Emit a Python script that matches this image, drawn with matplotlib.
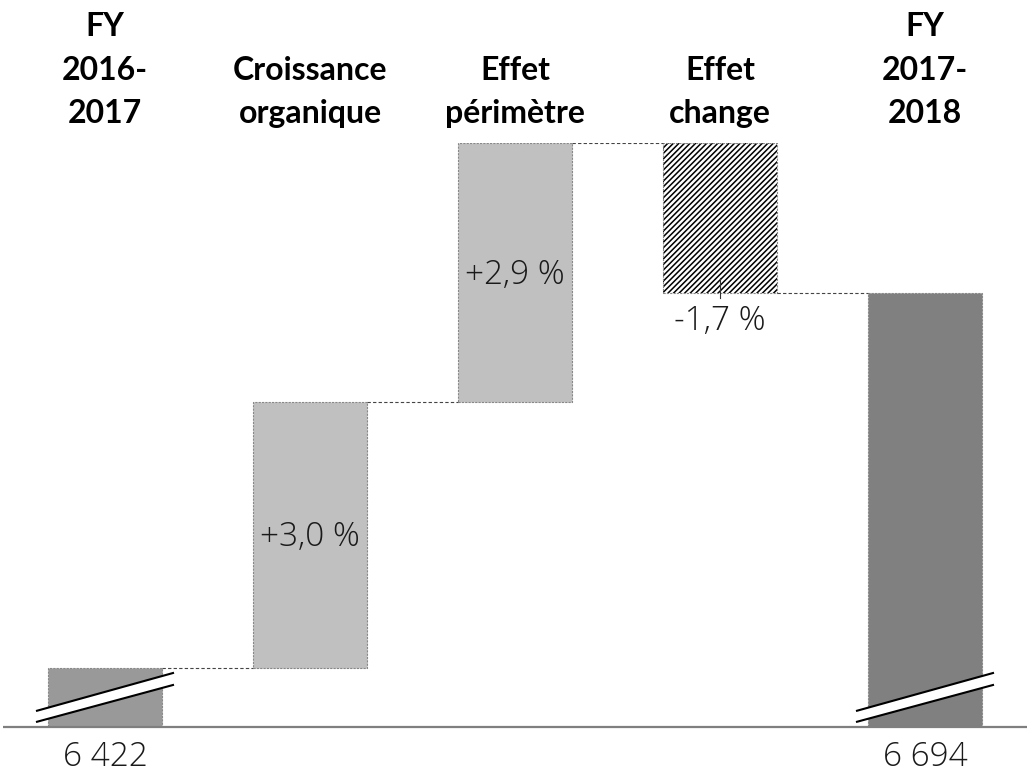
import matplotlib
matplotlib.use('Agg')
import matplotlib.pyplot as plt
import matplotlib.transforms as mtransforms
from matplotlib.patches import Polygon

# data (values in M EUR, deltas)
categories = ['FY\n2016-\n2017', 'Croissance\norganique', 'Effet\npérimètre', 'Effet\nchange', 'FY\n2017-\n2018']
start_value = 6422
end_value = 6694
deltas = [193, 188, -109]
delta_labels = ['+3,0 %', '+2,9 %', '-1,7 %']
total_labels = ['6 422', '6 694']

plt.rcParams['font.family'] = ['Lato', 'DejaVu Sans']
plt.rcParams['hatch.linewidth'] = 1.1

light_font = dict(family=['Open Sans', 'DejaVu Sans'], fontweight=300, color='#1a1a1a')

fig = plt.figure(figsize=(10.27, 7.73), dpi=100)
ax = fig.add_axes([0, 46 / 773, 1, 584 / 773])
y_bottom = 6379
ax.set_xlim(-105 / 205, 4 + 102 / 205)
ax.set_ylim(y_bottom, start_value + sum(d for d in deltas if d > 0))
ax.axis('off')

w = 114 / 205
x = list(range(len(categories)))

levels = [start_value]
for d in deltas:
    levels.append(levels[-1] + d)

edge = dict(edgecolor='#888888', linestyle=(0, (2, 1)), linewidth=0.8)

# total bars
ax.bar(x[0], start_value - y_bottom, bottom=y_bottom, width=w, color='#999999', **edge)
ax.bar(x[4], end_value - y_bottom, bottom=y_bottom, width=w, color='#808080', **edge)

# delta bars
for i, d in enumerate(deltas):
    lo = min(levels[i], levels[i + 1])
    if d > 0:
        ax.bar(x[i + 1], abs(d), bottom=lo, width=w, color='#c0c0c0', **edge)
    else:
        ax.bar(x[i + 1], abs(d), bottom=lo, width=w, color='white', hatch='//////',
               edgecolor='black', linewidth=0)
        ax.bar(x[i + 1], abs(d), bottom=lo, width=w, fill=False, **edge)

# connectors
for i in range(4):
    ax.plot([x[i] + w / 2, x[i + 1] - w / 2], [levels[i], levels[i]],
            color='#444444', linestyle=(0, (3, 2)), linewidth=0.8)

# baseline
ax.plot([3 / 205 - 105 / 205, 4 + 102 / 205], [y_bottom, y_bottom], color='#7f7f7f',
        linewidth=1.6, clip_on=False, solid_capstyle='butt')

# break marks
for xi in (x[0], x[4]):
    dx = 68 / 205
    pts = [(xi - dx, 6390.8), (xi + dx, 6418.2), (xi + dx, 6409.5), (xi - dx, 6382.8)]
    ax.add_patch(Polygon(pts, closed=True, facecolor='white', edgecolor='none', zorder=3))
    ax.plot([xi - dx, xi + dx], [6390.8, 6418.2], color='black', lw=1.5, zorder=4)
    ax.plot([xi - dx, xi + dx], [6382.8, 6409.5], color='black', lw=1.5, zorder=4)

# delta labels
for i, d in enumerate(deltas):
    if d > 0:
        ax.text(x[i + 1], (levels[i] + levels[i + 1]) / 2 - 2, delta_labels[i], ha='center',
                va='center', fontsize=24, **light_font)
    else:
        ax.plot([x[i + 1], x[i + 1]], [levels[i + 1] - 3.8, levels[i + 1] + 10.8],
                color='#333333', lw=0.8)
        ax.text(x[i + 1], levels[i + 1] - 8, delta_labels[i], ha='center', va='top',
                fontsize=24, **light_font)

trans = mtransforms.blended_transform_factory(ax.transData, fig.transFigure)

# header labels
for xi, cat in zip(x, categories):
    ax.text(xi, 1 - 128 / 773, cat, transform=trans, ha='center', va='bottom',
            fontsize=23, fontweight='bold', linespacing=1.6)

# bottom values
ax.text(x[0], 1 - 757 / 773, total_labels[0], transform=trans, ha='center', va='center',
        fontsize=24, **light_font)
ax.text(x[4], 1 - 757 / 773, total_labels[1], transform=trans, ha='center', va='center',
        fontsize=24, **light_font)

fig.savefig('out.png', dpi=100)
